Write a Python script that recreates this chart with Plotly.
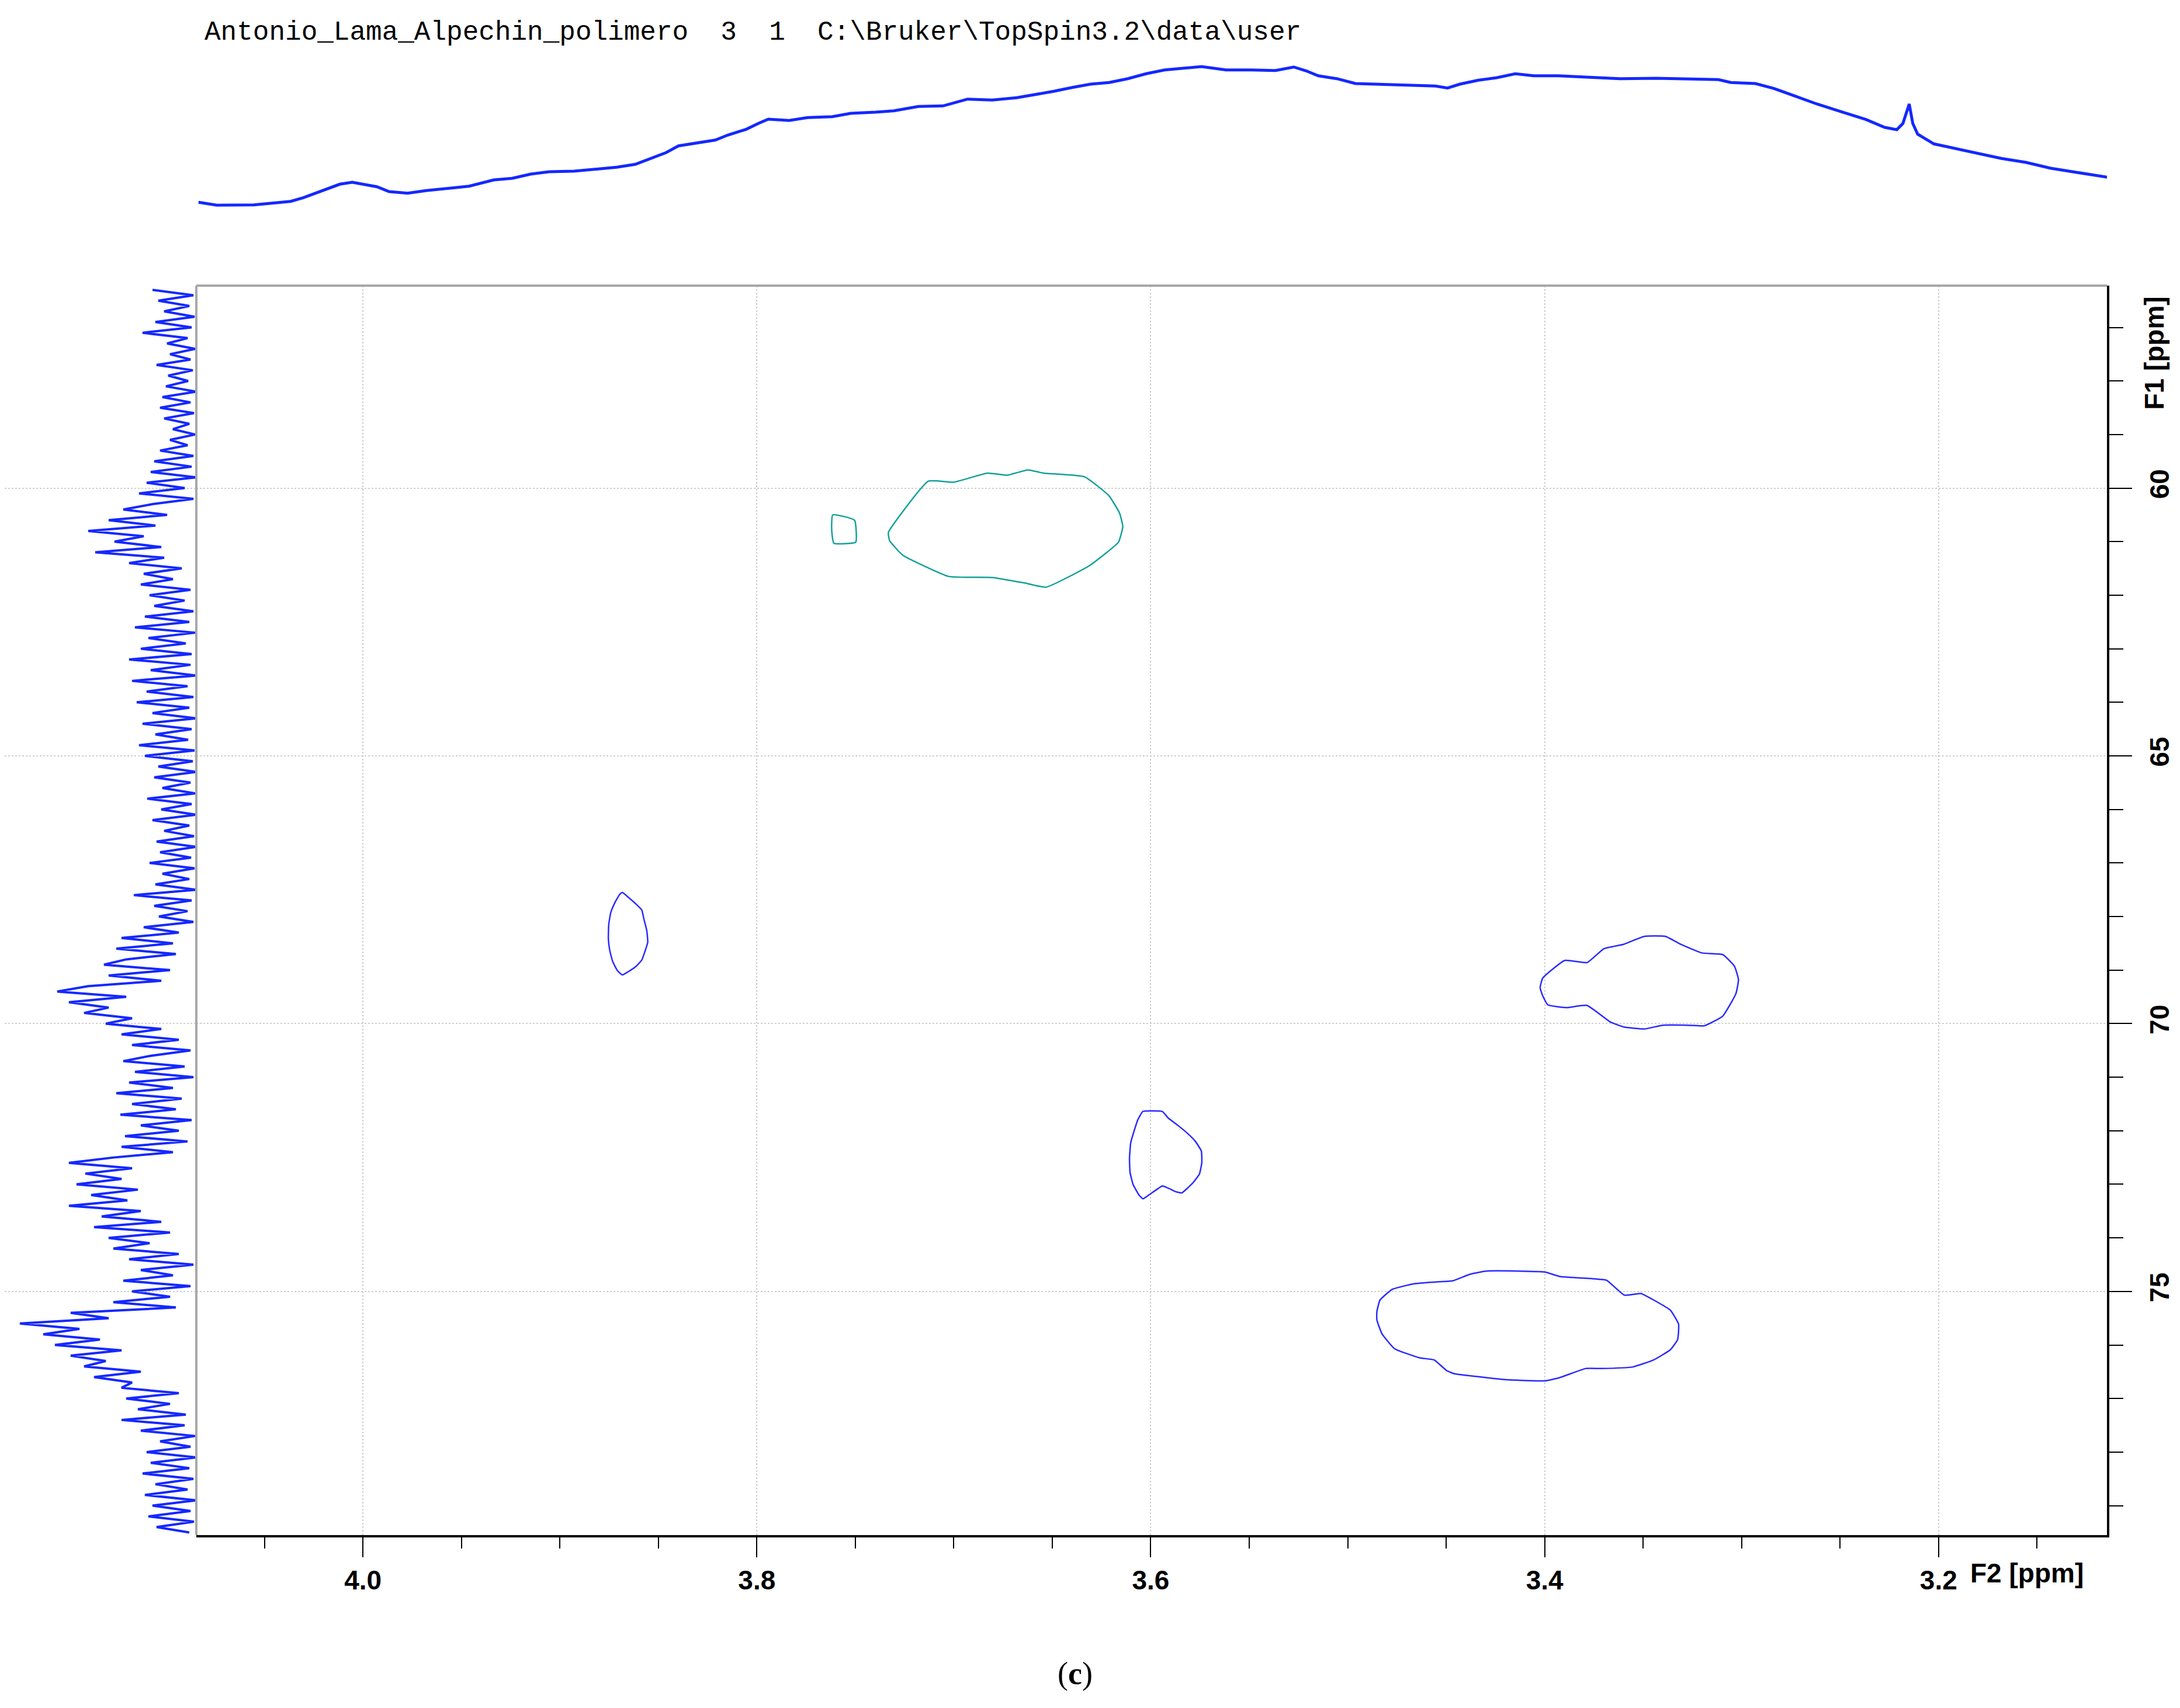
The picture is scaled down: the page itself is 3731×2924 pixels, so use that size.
import numpy as np
import plotly.graph_objects as go

# header line written by TopSpin
TITLE = "Antonio_Lama_Alpechin_polimero  3  1  C:\\Bruker\\TopSpin3.2\\data\\user"

# F2 (1H) projection on top: chemical shift (ppm) and intensity (a.u.)
F2_PROJ_PPM = [4.0835, 4.0742, 4.0554, 4.0367, 4.0304, 4.0242, 4.0179, 4.0117, 4.0054, 3.9992,
               3.9929, 3.9867, 3.9773, 3.9679, 3.9586, 3.9461, 3.9336, 3.9242, 3.9148, 3.9054,
               3.8929, 3.8804, 3.8711, 3.8617, 3.8523, 3.8461, 3.8398, 3.8304, 3.8211, 3.8148,
               3.8054, 3.7992, 3.7942, 3.7836, 3.7742, 3.7617, 3.7523, 3.7398, 3.7305, 3.7180,
               3.7055, 3.6930, 3.6805, 3.6680, 3.6586, 3.6492, 3.6399, 3.6305, 3.6211, 3.6117,
               3.6024, 3.5930, 3.5742, 3.5617, 3.5492, 3.5367, 3.5274, 3.5211, 3.5149, 3.5055,
               3.4961, 3.4836, 3.4680, 3.4555, 3.4493, 3.4430, 3.4336, 3.4243, 3.4149, 3.4055,
               3.3930, 3.3805, 3.3618, 3.3430, 3.3243, 3.3118, 3.3055, 3.2930, 3.2837, 3.2743,
               3.2618, 3.2493, 3.2368, 3.2274, 3.2212, 3.2181, 3.2149, 3.2131, 3.2106, 3.2024,
               3.1931, 3.1806, 3.1681, 3.1556, 3.1431, 3.1306, 3.1181, 3.1131]
F2_PROJ_INT = [21.7, 16.7, 17.3, 23.3, 29.3, 36.7, 45, 52.7, 56, 52.7,
               48.3, 40, 37.3, 41.7, 45, 49.3, 60, 62.7, 70, 74,
               75, 78.3, 81.7, 86.7, 98.3, 106.7, 118.3, 123.3, 128.3, 136.7,
               146.7, 156.7, 164, 161.7, 166.7, 168.3, 174, 176, 178.3, 185.7,
               186.7, 198.3, 196.7, 200.7, 206, 211.7, 218.3, 224, 226.7, 233.3,
               241.7, 248.3, 254, 248.3, 248.3, 247.3, 253.3, 246.7, 238.3, 233.3,
               225, 223.3, 221.7, 220.7, 217.3, 224, 230.7, 235, 241.7, 238.3,
               238.3, 236.7, 233.3, 234, 233.3, 231.7, 226.7, 225, 216.7, 205,
               190, 176.7, 163.3, 150, 146, 156.7, 190, 156.7, 138.3, 121.7,
               115, 105, 96.7, 90, 80, 73.3, 66.7, 64]

# F1 (13C) projection on the left, sampled every 0.1 ppm from 56.3 ppm
F1_PROJ_START = 56.3
F1_PROJ_STEP = 0.1
F1_PROJ_INT = [75, 5, 65, 12, 55, 3, 70, 8, 92, 15, 50, 2, 45, 10,
               68, 6, 48, 14, 52, 0, 58, 10, 62, 4, 55, 12, 40, 2, 45, 15, 62, 5,
               72, 8, 78, 0, 85, 20, 98, 5, 75,
               125, 50, 150, 70, 185, 90, 140, 60, 173, 55, 115, 25, 90,
               40, 95, 10, 80, 20, 72,
               5, 88, 12, 105, 2, 82, 18, 95, 8, 115, 10, 78, 0, 110, 15, 85, 5, 102, 12, 75,
               0, 92, 8, 70, 14, 98, 3,
               88, 6, 65, 0, 72, 10, 58, 2, 84, 8, 60, 0, 75, 12, 55, 4, 68, 0, 62, 9,
               80, 3, 58, 12, 70, 0, 107, 8, 72, 15, 64, 5, 90,
               30, 128, 40, 137, 35, 120, 158, 45, 150, 60, 185,
               238, 120, 218, 150, 192, 110,
               155, 60, 128, 30, 110, 10, 78,
               125, 20, 105, 5, 115, 40, 137, 25, 110, 35, 130, 8, 95, 30, 122, 15, 128, 40,
               142, 218, 110, 190, 128, 205, 100, 180, 118, 218, 95,
               162, 60, 175, 45, 150, 80, 142, 30,
               115, 5, 95, 40, 125, 10, 110,
               45, 142, 35,
               215, 150, 302, 200, 262,
               165, 242, 128, 215, 155, 192, 95, 175, 110,
               128, 30, 120, 45, 100, 18, 128,
               20, 95, 2, 62, 10, 85, 0, 78, 12, 92, 5, 70, 15, 88, 0, 75, 10, 82, 4, 68, 12]

# cross-peak contours (F2 ppm, F1 ppm)
TEAL_A_F2 = [3.7332, 3.7129, 3.7001, 3.6829, 3.6730, 3.6624, 3.6545, 3.6336, 3.6213, 3.6158,
             3.6142, 3.6164, 3.6312, 3.6532, 3.6643, 3.6803, 3.7025, 3.7260, 3.7326]
TEAL_A_F1 = [60.83, 59.87, 59.89, 59.72, 59.76, 59.66, 59.72, 59.79, 60.14, 60.47,
             60.72, 61.01, 61.45, 61.85, 61.77, 61.67, 61.65, 61.25, 60.98]
TEAL_B_F2 = [3.7615, 3.7504, 3.7498, 3.7609, 3.7620]
TEAL_B_F1 = [60.50, 60.60, 61.01, 61.03, 60.78]

BLUE_A_F2 = [3.8683, 3.8653, 3.8613, 3.8584, 3.8574, 3.8559, 3.8554, 3.8569, 3.8584, 3.8613,
             3.8653, 3.8683, 3.8708, 3.8732, 3.8747, 3.8754, 3.8752, 3.8742, 3.8722, 3.8697]
BLUE_A_F1 = [67.55, 67.64, 67.77, 67.88, 68.04, 68.26, 68.48, 68.66, 68.81, 68.93,
             69.03, 69.09, 69.01, 68.84, 68.63, 68.41, 68.15, 67.93, 67.75, 67.59]
BLUE_B_F2 = [3.6040, 3.5941, 3.5912, 3.5862, 3.5813, 3.5773, 3.5743, 3.5741, 3.5753, 3.5783,
             3.5813, 3.5842, 3.5872, 3.5912, 3.5941, 3.5971, 3.6010, 3.6040, 3.6060, 3.6090,
             3.6105, 3.6108, 3.6102, 3.6085, 3.6065]
BLUE_B_F1 = [71.64, 71.64, 71.76, 71.90, 72.05, 72.20, 72.38, 72.60, 72.81, 72.96,
             73.07, 73.16, 73.14, 73.07, 73.03, 73.10, 73.20, 73.27, 73.20, 73.00,
             72.78, 72.52, 72.23, 72.01, 71.79]
BLUE_C_F2 = [3.4023, 3.4010, 3.3898, 3.3785, 3.3699, 3.3600, 3.3494, 3.3387, 3.3308, 3.3202,
             3.3096, 3.3036, 3.3016, 3.3029, 3.3096, 3.3189, 3.3268, 3.3401, 3.3494, 3.3600,
             3.3666, 3.3785, 3.3891, 3.3984, 3.4010]
BLUE_C_F1 = [69.33, 69.15, 68.82, 68.86, 68.60, 68.52, 68.37, 68.37, 68.52, 68.68,
             68.71, 68.93, 69.18, 69.44, 69.86, 70.04, 70.03, 70.03, 70.10, 70.06,
             69.97, 69.66, 69.70, 69.65, 69.48]
BLUE_D_F2 = [3.4852, 3.4836, 3.4773, 3.4667, 3.4582, 3.4465, 3.4380, 3.4295, 3.4136, 3.3998,
             3.3924, 3.3765, 3.3686, 3.3595, 3.3511, 3.3447, 3.3362, 3.3320, 3.3325, 3.3362,
             3.3447, 3.3553, 3.3712, 3.3792, 3.3924, 3.3998, 3.4189, 3.4295, 3.4455, 3.4497,
             3.4561, 3.4635, 3.4762, 3.4826, 3.4852]
BLUE_D_F1 = [75.38, 75.16, 74.96, 74.86, 74.83, 74.80, 74.68, 74.62, 74.62, 74.64,
             74.72, 74.76, 74.79, 75.07, 75.04, 75.16, 75.35, 75.61, 75.90, 76.09,
             76.28, 76.41, 76.44, 76.44, 76.61, 76.67, 76.65, 76.61, 76.54, 76.48,
             76.28, 76.24, 76.07, 75.79, 75.53]

F2_RANGE = [4.0846, 3.1145]
F1_RANGE = [79.55, 56.22]

W, H = 3731, 2924
TRACE_BLUE = "#1428ff"
CONTOUR_BLUE = "#2a2aff"
TEAL = "#13a09a"

fig = go.Figure()

# 1D projections
fig.add_trace(go.Scatter(x=F2_PROJ_PPM, y=F2_PROJ_INT, xaxis="x2", yaxis="y2",
                         mode="lines", line=dict(color=TRACE_BLUE, width=5)))
f1_ppm = F1_PROJ_START + F1_PROJ_STEP * np.arange(len(F1_PROJ_INT))
fig.add_trace(go.Scatter(x=F1_PROJ_INT, y=f1_ppm, xaxis="x3", yaxis="y",
                         mode="lines", line=dict(color=TRACE_BLUE, width=4)))

# contours
def closed(a):
    return list(a) + [a[0]]

for f2, f1, col in [(TEAL_A_F2, TEAL_A_F1, TEAL), (TEAL_B_F2, TEAL_B_F1, TEAL),
                    (BLUE_A_F2, BLUE_A_F1, CONTOUR_BLUE), (BLUE_B_F2, BLUE_B_F1, CONTOUR_BLUE),
                    (BLUE_C_F2, BLUE_C_F1, CONTOUR_BLUE), (BLUE_D_F2, BLUE_D_F1, CONTOUR_BLUE)]:
    fig.add_trace(go.Scatter(x=closed(f2), y=closed(f1), mode="lines",
                             line=dict(color=col, width=2.5, shape="spline", smoothing=0.4)))

tickfont = dict(family="Liberation Sans", size=46, color="black", weight="bold")
x_dom = [328 / W, 3598 / W]
y_dom = [1 - 2620 / H, 1 - 481 / H]

fig.update_layout(
    width=W, height=H,
    margin=dict(l=0, r=0, t=0, b=0),
    paper_bgcolor="white", plot_bgcolor="white",
    showlegend=False,
    xaxis=dict(domain=x_dom, range=F2_RANGE, anchor="y",
               showline=True, linecolor="black", linewidth=4,
               ticks="outside", ticklen=34, tickwidth=2, tickcolor="black",
               tickmode="linear", tick0=4.0, dtick=0.2, tickformat=".1f",
               tickfont=tickfont, ticklabelstandoff=0,
               showgrid=True, gridcolor="#cfcfcf", griddash="dot", gridwidth=2,
               zeroline=False,
               minor=dict(ticks="outside", ticklen=19, tickwidth=2, tickcolor="black",
                          tick0=4.0, dtick=0.05, showgrid=False)),
    yaxis=dict(domain=y_dom, range=F1_RANGE, anchor="x", side="right",
               showline=True, linecolor="black", linewidth=4,
               ticks="outside", ticklen=39, tickwidth=2, tickcolor="black",
               tickmode="linear", tick0=60, dtick=5, tickangle=-90,
               tickfont=tickfont, ticklabelstandoff=8,
               showgrid=True, gridcolor="#cfcfcf", griddash="dot", gridwidth=2,
               zeroline=False,
               minor=dict(ticks="outside", ticklen=24, tickwidth=2, tickcolor="black",
                          tick0=60, dtick=1, showgrid=False)),
    xaxis2=dict(domain=x_dom, matches="x", anchor="y2", visible=False),
    yaxis2=dict(domain=[1 - 360 / H, 1 - 60 / H], range=[0, 300], anchor="x2", visible=False),
    xaxis3=dict(domain=[0, 328 / W], range=[328, 0], anchor="y", visible=False),
)

# grey top/left frame lines
fig.add_shape(type="line", xref="x domain", yref="y domain", x0=0, x1=1, y0=1, y1=1,
              line=dict(color="#a8a8a8", width=4))
fig.add_shape(type="line", xref="x domain", yref="y domain", x0=0, x1=0, y0=0, y1=1,
              line=dict(color="#a8a8a8", width=4))

fig.add_annotation(text=TITLE.replace(" ", "\u00a0"), xref="paper", yref="paper",
                   x=340 / W, y=1 - 48 / H, xanchor="left", yanchor="middle", showarrow=False,
                   font=dict(family="Liberation Mono", size=46, color="black"))
fig.add_annotation(text="F2 [ppm]", xref="paper", yref="paper",
                   x=3362 / W, y=1 - 2685 / H, xanchor="left", yanchor="middle", showarrow=False,
                   font=tickfont)
fig.add_annotation(text="F1 [ppm]", xref="paper", yref="y",
                   x=3679 / W, y=57.48, xanchor="center", yanchor="middle", showarrow=False,
                   textangle=-90, font=tickfont)
fig.add_annotation(text="(<b>c</b>)", xref="paper", yref="paper",
                   x=1832 / W, y=1 - 2857 / H, xanchor="center", yanchor="middle", showarrow=False,
                   font=dict(family="Liberation Serif", size=54, color="black"))

fig.write_html("out.html")
